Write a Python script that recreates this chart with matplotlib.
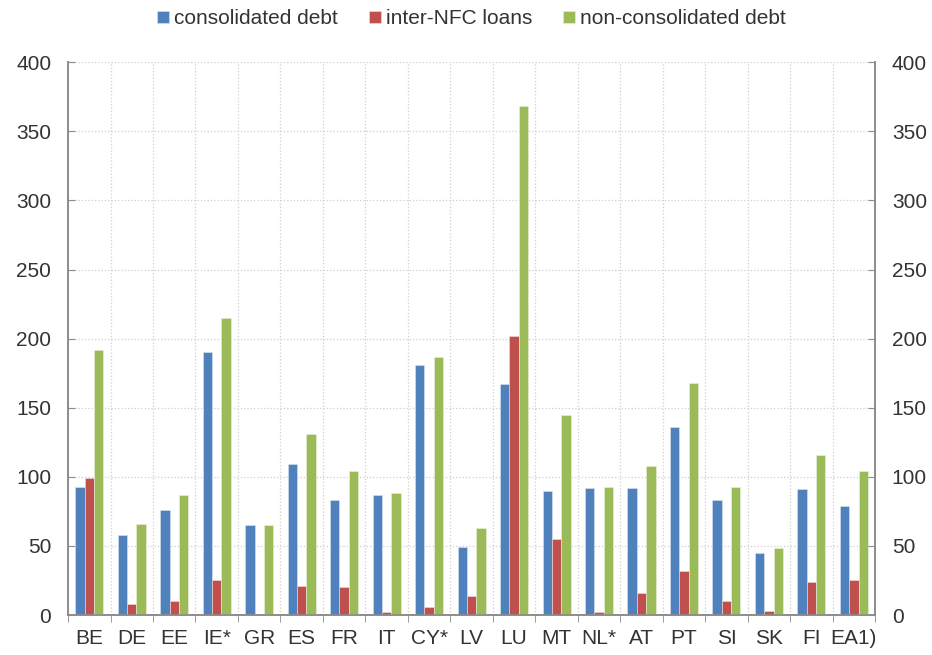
import numpy as np
import matplotlib.pyplot as plt
from matplotlib.ticker import MultipleLocator

plt.rcParams['font.family'] = ['Liberation Sans', 'DejaVu Sans']

countries = ['BE', 'DE', 'EE', 'IE*', 'GR', 'ES', 'FR', 'IT', 'CY*', 'LV',
             'LU', 'MT', 'NL*', 'AT', 'PT', 'SI', 'SK', 'FI', 'EA1)']
consolidated = [93, 58, 76, 190, 65, 109, 83, 87, 181, 49,
                167, 90, 92, 92, 136, 83, 45, 91, 79]
inter_nfc = [99, 8, 10, 25, 0, 21, 20.5, 2, 6, 13.5,
             202, 55, 2, 16, 32, 10, 3, 24, 25]
non_consolidated = [192, 66, 87, 215, 65, 131, 104, 88, 187, 63,
                    368, 145, 93, 108, 168, 93, 48.5, 116, 104]

c_blue = '#4F81BD'
c_red = '#C0504D'
c_green = '#9BBB59'
axis_col = '#8C8C8C'
txt_col = '#333333'

fig = plt.figure(figsize=(9.32, 6.55), dpi=100)
ax = fig.add_axes([0.073, 0.061, 0.866, 0.844])

x = np.arange(len(countries))
w = 0.22
ax.bar(x - w, consolidated, w, color=c_blue, edgecolor='#DCE6F2', linewidth=0.4,
       label='consolidated debt', zorder=3)
ax.bar(x, inter_nfc, w, color=c_red, edgecolor='#F2DCDB', linewidth=0.4,
       label='inter-NFC loans', zorder=3)
ax.bar(x + w, non_consolidated, w, color=c_green, edgecolor='#EBF1DE', linewidth=0.4,
       label='non-consolidated debt', zorder=3)

ax.set_xlim(-0.5, len(countries) - 0.5)
ax.set_ylim(0, 400)
ax.yaxis.set_major_locator(MultipleLocator(50))

ax.set_xticks(x)
ax.set_xticklabels(countries)
ax.set_xticks(np.arange(-0.5, len(countries), 1), minor=True)
ax.tick_params(axis='x', which='major', length=0, pad=10, labelsize=15, labelcolor=txt_col)
ax.tick_params(axis='x', which='minor', length=5, direction='out', color=axis_col)
ax.tick_params(axis='y', length=5, direction='in', color=axis_col, labelsize=15,
               labelcolor=txt_col, pad=12)

ax.grid(axis='y', which='major', linestyle=':', color='#CFCFCF', linewidth=0.9, zorder=0)
ax.grid(axis='x', which='minor', linestyle=':', color='#CFCFCF', linewidth=0.9, zorder=0)

for s in ['left', 'right', 'bottom']:
    ax.spines[s].set_color(axis_col)
    ax.spines[s].set_linewidth(1.2)
ax.spines['top'].set_visible(False)

ax2 = ax.twinx()
ax2.set_ylim(0, 400)
ax2.yaxis.set_major_locator(MultipleLocator(50))
ax2.tick_params(axis='y', length=5, direction='in', color=axis_col, labelsize=15,
                labelcolor=txt_col, pad=12)
for s in ['left', 'right', 'bottom']:
    ax2.spines[s].set_color(axis_col)
    ax2.spines[s].set_linewidth(1.2)
ax2.spines['top'].set_visible(False)

leg = ax.legend(loc='lower center', bbox_to_anchor=(0.5, 1.046), ncol=3, frameon=False,
                fontsize=15, handlelength=0.55, handleheight=0.55, handletextpad=0.25,
                columnspacing=1.5, borderaxespad=0)
for t in leg.get_texts():
    t.set_color(txt_col)

fig.savefig('out.png', dpi=100)
